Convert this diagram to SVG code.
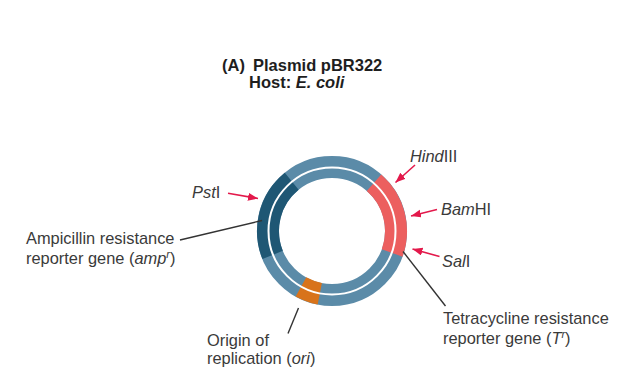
<svg xmlns="http://www.w3.org/2000/svg" width="640" height="382" viewBox="0 0 640 382">
<style>
.t{font-family:"Liberation Sans",Arial,sans-serif;font-size:16.4px;fill:#3a3a3a}
.h{font-family:"Liberation Sans",Arial,sans-serif;font-size:16.5px;font-weight:bold;fill:#1e1e1e}
.i{font-style:italic}
.ring{fill:none;stroke-width:22}
.ln{stroke:#333;stroke-width:1.4;fill:none}
.ar{stroke:#e3194b;stroke-width:1.6;fill:none;marker-end:url(#ah)}
</style>
<defs>
<marker id="ah" markerUnits="userSpaceOnUse" markerWidth="12" markerHeight="10" refX="10" refY="4" orient="auto">
<path d="M0,0 L10,4 L0,8 Z" fill="#e3194b"/>
</marker>
</defs>
<rect width="640" height="382" fill="#fff"/>
<g id="title">
<text class="h" x="222" y="71">(A)</text>
<text class="h" x="253" y="71">Plasmid pBR322</text>
<text class="h" x="249" y="88">Host: <tspan class="i">E. coli</tspan></text>
</g>
<g id="plasmid">
<circle cx="332" cy="231" r="64" class="ring" stroke="#5b8ba8"/>
<path d="M291.72,181.26 A64,64 0 0 0 272.66,254.97" class="ring" stroke="#1f5774"/>
<path d="M300.97,286.98 A64,64 0 0 0 319.79,293.82" class="ring" stroke="#d8731b"/>
<path d="M392.14,252.89 A64,64 0 0 0 373.99,182.70" class="ring" stroke="#ec5f5f"/>
<circle cx="332" cy="231" r="63.5" fill="none" stroke="#fff" stroke-width="2"/>
</g>
<g id="connectors">
<line class="ln" x1="180" y1="240" x2="262" y2="220.5"/>
<line class="ln" x1="288" y1="333.5" x2="298.5" y2="308"/>
<line class="ln" x1="403" y1="251.5" x2="445.5" y2="306"/>
<line class="ar" x1="228" y1="193.3" x2="258" y2="198.5"/>
<line class="ar" x1="415" y1="165" x2="395.5" y2="182.5"/>
<line class="ar" x1="437" y1="209.5" x2="411" y2="216"/>
<line class="ar" x1="439.5" y1="256.5" x2="412.5" y2="249"/>
</g>
<g id="pstI"><text class="t" x="192" y="197.5"><tspan class="i">Pst</tspan>I</text></g>
<g id="hindIII"><text class="t" x="410" y="161.5"><tspan class="i">Hind</tspan>III</text></g>
<g id="bamHI"><text class="t" x="441" y="215"><tspan class="i">Bam</tspan>HI</text></g>
<g id="salI"><text class="t" x="442" y="266.5"><tspan class="i">Sal</tspan>I</text></g>
<g id="amp">
<text class="t" x="26" y="244">Ampicillin resistance</text>
<text class="t" x="26" y="263.5">reporter gene (<tspan class="i">amp</tspan><tspan class="i" font-size="11" dy="-6">r</tspan><tspan dy="6">)</tspan></text>
</g>
<g id="ori">
<text class="t" x="207" y="345.5">Origin of</text>
<text class="t" x="207" y="364">replication (<tspan class="i">ori</tspan>)</text>
</g>
<g id="tet">
<text class="t" x="443" y="323.5">Tetracycline resistance</text>
<text class="t" x="443" y="343.5">reporter gene (<tspan class="i">T</tspan><tspan class="i" font-size="11" dy="-6">r</tspan><tspan dy="6">)</tspan></text>
</g>
</svg>
